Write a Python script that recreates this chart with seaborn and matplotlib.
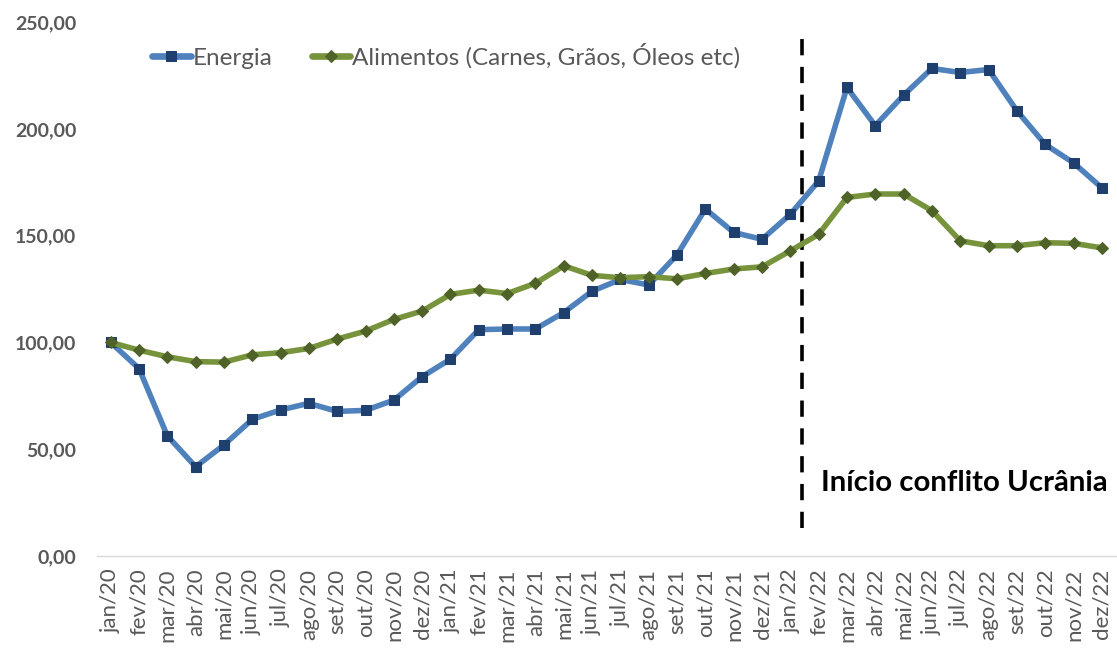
"""
Índice de preços: Energia vs Alimentos (jan/20 = 100), com marcação do
início do conflito na Ucrânia.  Saída: out.png
"""

import matplotlib
matplotlib.use("Agg")
import matplotlib.pyplot as plt
import numpy as np
import pandas as pd
import seaborn as sns
from matplotlib.ticker import FuncFormatter, MultipleLocator

# ── Data ──────────────────────────────────────────────────────────────────────
months = [
    "jan/20", "fev/20", "mar/20", "abr/20", "mai/20", "jun/20",
    "jul/20", "ago/20", "set/20", "out/20", "nov/20", "dez/20",
    "jan/21", "fev/21", "mar/21", "abr/21", "mai/21", "jun/21",
    "jul/21", "ago/21", "set/21", "out/21", "nov/21", "dez/21",
    "jan/22", "fev/22", "mar/22", "abr/22", "mai/22", "jun/22",
    "jul/22", "ago/22", "set/22", "out/22", "nov/22", "dez/22",
]
energia = [
    100.0, 87.8, 56.3, 41.8, 52.0, 64.0, 68.4, 71.5, 67.7, 68.2, 73.0, 84.0,
    92.2, 106.0, 106.3, 106.3, 114.0, 124.0, 129.5, 126.9, 141.0, 162.5, 151.5, 148.3,
    160.0, 175.6, 219.4, 201.5, 215.8, 228.3, 226.4, 227.8, 208.5, 192.7, 184.1, 172.4,
]
alimentos = [
    100.0, 96.4, 93.3, 91.0, 90.8, 94.2, 95.2, 97.2, 101.6, 105.3, 110.8, 114.7,
    122.5, 124.5, 122.9, 127.7, 135.9, 131.4, 130.3, 130.8, 129.8, 132.3, 134.4, 135.4,
    142.9, 150.6, 167.9, 169.5, 169.5, 161.7, 147.6, 145.3, 145.3, 146.7, 146.4, 144.3,
]
series_names = ["Energia", "Alimentos (Carnes, Grãos, Óleos etc)"]
event_label = "Início conflito Ucrânia"
event_pos = 24.4  # entre jan/22 e fev/22

# ── Style ─────────────────────────────────────────────────────────────────────
sns.set_style("white")
plt.rcParams["font.family"] = ["Lato", "DejaVu Sans"]

GRAY = "#595959"
BLUE_LINE, BLUE_MARK = "#4F81BD", "#1F3F6E"
GREEN_LINE, GREEN_MARK = "#77933C", "#4F6228"

df = pd.DataFrame({"idx": np.arange(len(months)), "energia": energia, "alimentos": alimentos})

fig = plt.figure(figsize=(11.17, 6.5), dpi=100)
ax = fig.add_axes([0.0864, 0.1446, 0.9127, 0.8214])

sns.lineplot(
    data=df, x="idx", y="energia", ax=ax, color=BLUE_LINE, linewidth=4.0,
    marker="s", markersize=7.5, markerfacecolor=BLUE_MARK, markeredgecolor=BLUE_MARK,
    label=series_names[0],
)
sns.lineplot(
    data=df, x="idx", y="alimentos", ax=ax, color=GREEN_LINE, linewidth=4.0,
    marker="D", markersize=6.5, markerfacecolor=GREEN_MARK, markeredgecolor=GREEN_MARK,
    label=series_names[1],
)

# ── Event marker ──────────────────────────────────────────────────────────────
ax.plot([event_pos, event_pos], [13, 246], color="black", linewidth=2.6,
        linestyle=(0, (4.5, 3.2)), zorder=1)
ax.text(event_pos + 0.7, 34, event_label, fontsize=21.2, fontweight="bold",
        color="black", va="center", ha="left")

# ── Axes ──────────────────────────────────────────────────────────────────────
ax.set_xlim(-0.5, len(months) - 0.5)
ax.set_ylim(0, 250)
ax.yaxis.set_major_locator(MultipleLocator(50))
ax.yaxis.set_major_formatter(FuncFormatter(lambda v, _: f"{v:.2f}".replace(".", ",")))
ax.set_xticks(np.arange(len(months)))
ax.set_xticklabels(months, rotation=90, fontsize=16, color=GRAY)
ax.set_xticks(np.arange(-0.5, len(months)), minor=True)
ax.tick_params(axis="x", which="major", length=0, pad=9)
ax.tick_params(axis="x", which="minor", length=7, color="#D9D9D9", width=1)
ax.tick_params(axis="y", length=0, pad=14.4, labelsize=14, labelcolor=GRAY)
for lbl in ax.get_yticklabels():
    lbl.set_fontweight("bold")
ax.set_xlabel("")
ax.set_ylabel("")

for side in ["top", "right", "left"]:
    ax.spines[side].set_visible(False)
ax.spines["bottom"].set_color("#D9D9D9")
ax.spines["bottom"].set_linewidth(1)

leg = ax.legend(
    loc="center left", bbox_to_anchor=(0.0544, 0.936), ncol=2, frameon=False,
    fontsize=17.5, handlelength=1.6, handletextpad=0.08, columnspacing=1.6,
    borderpad=0, borderaxespad=0,
)
for t in leg.get_texts():
    t.set_color(GRAY)
for h in leg.get_lines():
    h.set_linewidth(4.8)

fig.savefig("out.png", dpi=100)
plt.close(fig)
